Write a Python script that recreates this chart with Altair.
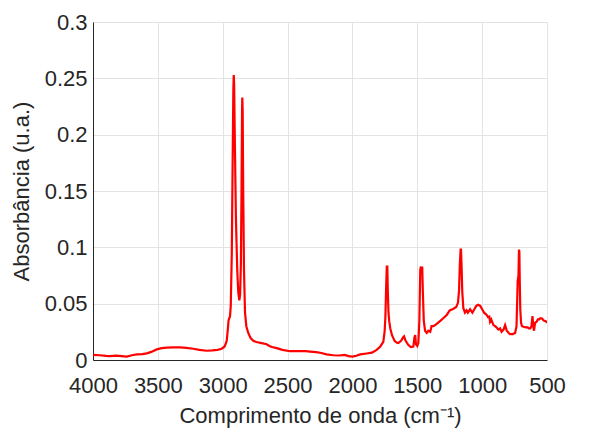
import altair as alt
import pandas as pd

wavenumber = [4000, 3950, 3900, 3870, 3820, 3780, 3740, 3700, 3663, 3620, 3586, 3550, 3509, 3470, 3432, 3380, 3329, 3280, 3227, 3180, 3123, 3080, 3040, 3008, 2985, 2969, 2960, 2955, 2950, 2944, 2938, 2930, 2924, 2918, 2915, 2912, 2906, 2898, 2888, 2880, 2872, 2866, 2860, 2855, 2851, 2849, 2846, 2842, 2836, 2828, 2818, 2803, 2785, 2764, 2740, 2700, 2661, 2640, 2620, 2584, 2540, 2481, 2440, 2400, 2360, 2327, 2280, 2240, 2200, 2147, 2100, 2060, 2030, 2000, 1970, 1940, 1890, 1850, 1813, 1785, 1762, 1752, 1746, 1740, 1735, 1731, 1727, 1722, 1716, 1708, 1695, 1675, 1660, 1646, 1625, 1610, 1602, 1590, 1570, 1550, 1530, 1522, 1516, 1510, 1500, 1492, 1484, 1477, 1472, 1467, 1462, 1457, 1450, 1440, 1427, 1415, 1400, 1390, 1375, 1350, 1320, 1300, 1273, 1250, 1221, 1200, 1186, 1178, 1172, 1166, 1163, 1159, 1153, 1145, 1132, 1120, 1110, 1093, 1075, 1060, 1045, 1030, 1015, 1000, 985, 965, 955, 945, 939, 930, 913, 900, 890, 875, 862, 850, 835, 823, 810, 795, 785, 765, 746, 735, 726, 720, 716, 713, 710, 706, 700, 693, 680, 665, 650, 640, 629, 620, 612, 606, 600, 592, 580, 570, 560, 553, 540, 525, 510, 500]

absorbance = [0.0046, 0.0042, 0.0037, 0.0035, 0.0038, 0.0034, 0.0030, 0.0042, 0.0050, 0.0052, 0.0059, 0.0072, 0.0094, 0.0105, 0.0110, 0.0112, 0.0112, 0.0107, 0.0100, 0.0090, 0.0082, 0.0085, 0.0090, 0.0100, 0.0120, 0.0170, 0.0280, 0.0350, 0.0370, 0.0385, 0.0480, 0.0950, 0.1700, 0.2400, 0.2530, 0.2450, 0.1900, 0.1250, 0.0800, 0.0600, 0.0530, 0.0580, 0.0850, 0.1500, 0.2200, 0.2330, 0.2200, 0.1500, 0.0800, 0.0420, 0.0300, 0.0240, 0.0195, 0.0170, 0.0160, 0.0150, 0.0140, 0.0125, 0.0115, 0.0105, 0.0090, 0.0078, 0.0078, 0.0080, 0.0078, 0.0075, 0.0070, 0.0062, 0.0050, 0.0042, 0.0040, 0.0045, 0.0035, 0.0030, 0.0038, 0.0050, 0.0058, 0.0065, 0.0090, 0.0120, 0.0160, 0.0250, 0.0380, 0.0650, 0.0830, 0.0830, 0.0600, 0.0420, 0.0340, 0.0280, 0.0220, 0.0170, 0.0155, 0.0150, 0.0170, 0.0200, 0.0210, 0.0170, 0.0135, 0.0115, 0.0120, 0.0200, 0.0220, 0.0140, 0.0125, 0.0150, 0.0350, 0.0800, 0.0830, 0.0760, 0.0830, 0.0600, 0.0350, 0.0260, 0.0240, 0.0260, 0.0250, 0.0300, 0.0300, 0.0320, 0.0350, 0.0370, 0.0400, 0.0440, 0.0455, 0.0470, 0.0510, 0.0620, 0.0850, 0.0980, 0.0980, 0.0850, 0.0600, 0.0460, 0.0420, 0.0440, 0.0420, 0.0450, 0.0420, 0.0450, 0.0480, 0.0490, 0.0480, 0.0450, 0.0420, 0.0400, 0.0380, 0.0385, 0.0340, 0.0360, 0.0310, 0.0300, 0.0290, 0.0270, 0.0280, 0.0250, 0.0270, 0.0310, 0.0260, 0.0240, 0.0230, 0.0230, 0.0240, 0.0300, 0.0700, 0.0750, 0.0980, 0.0960, 0.0700, 0.0450, 0.0330, 0.0300, 0.0295, 0.0290, 0.0290, 0.0280, 0.0280, 0.0300, 0.0390, 0.0300, 0.0260, 0.0330, 0.0340, 0.0360, 0.0360, 0.0370, 0.0370, 0.0350, 0.0345, 0.0330]

x_ticks = [4000, 3500, 3000, 2500, 2000, 1500, 1000, 500]
y_ticks = [0, 0.05, 0.1, 0.15, 0.2, 0.25, 0.3]

df = pd.DataFrame({"wn": wavenumber, "a": absorbance, "order": list(range(len(wavenumber)))})

font = "Liberation Sans"
txt = "#262626"

chart = alt.Chart(df).mark_line(color="#ff0000", strokeWidth=2.2, clip=True).encode(
    x=alt.X("wn:Q", scale=alt.Scale(domain=[500, 4000], reverse=True, nice=False, zero=False),
            axis=alt.Axis(values=x_ticks, format="d", title="Comprimento de onda (cm⁻¹)", grid=True,
                          gridColor="#e3e3e3", domainColor=txt, ticks=False,
                          labelFont=font, labelFontSize=22, labelColor=txt, labelPadding=15,
                          labelFlush=False,
                          titleFont=font, titleFontSize=22, titleColor=txt, titleFontWeight="normal",
                          titlePadding=9)),
    y=alt.Y("a:Q", scale=alt.Scale(domain=[0, 0.3], nice=False),
            axis=alt.Axis(values=y_ticks, format=".2~f", title="Absorbância (u.a.)", grid=True,
                          gridColor="#e3e3e3", domainColor=txt, ticks=False,
                          labelFont=font, labelFontSize=22, labelColor=txt, labelPadding=6,
                          labelFlush=False,
                          titleFont=font, titleFontSize=22, titleColor=txt, titleFontWeight="normal",
                          titlePadding=11)),
    order="order:Q",
).properties(
    width=454, height=338,
    autosize=alt.AutoSizeParams(type="none"),
    padding={"left": 85, "top": 14, "right": 40, "bottom": 77},
).configure_view(stroke=txt, strokeWidth=1).configure(background="white")

chart.save("out.html", embed_options={"renderer": "svg", "actions": False})
